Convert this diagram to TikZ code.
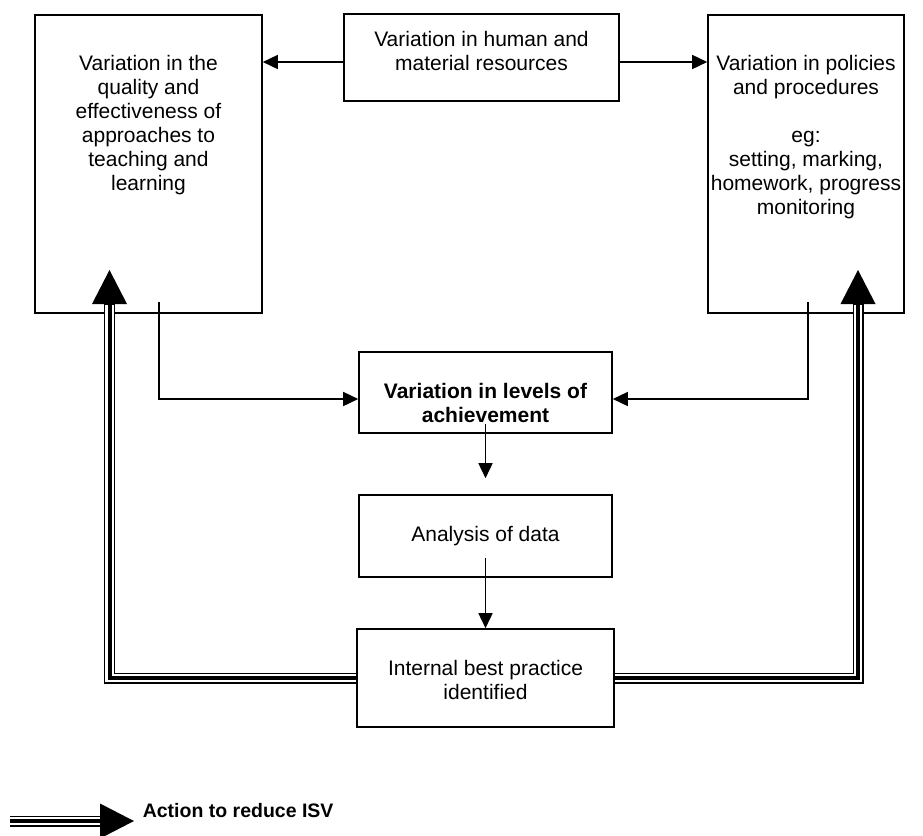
\documentclass[tikz,border=0pt]{standalone}
\usepackage{fontspec}
\setmainfont{Liberation Sans}
\usetikzlibrary{arrows.meta}

\begin{document}
\begin{tikzpicture}[x=1pt, y=-1pt, line width=1.6pt, line join=miter,
		font=\fontsize{21}{24}\selectfont,
		box/.style={draw, rectangle, inner sep=0pt},
		txt/.style={align=center, inner sep=0pt, anchor=north},
		arr/.style={-{Triangle[length=15pt,width=14pt]}},
		trio/.style={line width=11pt, -{Triangle[length=34pt,width=35pt,line width=0pt]}},
		trio gap/.style={white, line width=8.4pt, shorten >=34.5pt},
		trio core/.style={line width=4pt, shorten >=34.5pt}]
	\def\ya{62}   % height of the top arrows
	\def\yb{399}  % height of the arrows into the middle box
	\useasboundingbox (0,0) rectangle (923,835);
	% boxes
	\node[box, minimum width=227pt, minimum height=298pt] (quality) at (148.5,164) {};
	\node[box, minimum width=196pt, minimum height=298pt] (policies) at (806,164) {};
	\node[box, minimum width=275pt, minimum height=87pt] (resources) at (481.5,57.5) {};
	\node[box, minimum width=253pt, minimum height=81pt] (levels) at (485.5,392.5) {};
	\node[box, minimum width=253pt, minimum height=82pt] (analysis) at (485.5,536) {};
	\node[box, minimum width=257pt, minimum height=98pt] (practice) at (485.5,678) {};
	% texts
	\node[txt] (qualitytext) at (148.5,54) {Variation in the\\quality and\\effectiveness of\\approaches to\\teaching and\\learning};
	\node[txt] (policiestext) at (806,54) {Variation in policies\\and procedures\\[24pt]eg:\\setting, marking,\\homework, progress\\monitoring};
	\node[txt] (resourcestext) at (481.5,30) {Variation in human and\\material resources};
	\node[txt, font=\fontsize{21}{24}\selectfont\bfseries] (levelstext) at (485.5,382) {Variation in levels of\\achievement};
	\node[txt] (analysistext) at (485.5,525) {Analysis of data};
	\node[txt] (practicetext) at (485.5,659) {Internal best practice\\identified};
	% thin arrows
	\draw[arr] (resources.west |- 0,\ya) -- (quality.east |- 0,\ya);
	\draw[arr] (resources.east |- 0,\ya) -- (policies.west |- 0,\ya);
	\coordinate (qfoot) at (159,302);
	\coordinate (pfoot) at (808,302);
	\draw[arr] (qfoot) |- (levels.west |- 0,\yb);
	\draw[arr] (pfoot) |- (levels.east |- 0,\yb);
	\draw[arr] ([yshift=10pt]levels.south) -- ([yshift=16pt]analysis.north);
	\draw[arr] ([yshift=20pt]analysis.south) -- (practice.north);
	% triple arrows back to the top boxes
	\coordinate (qtip) at (109.5,270);
	\coordinate (ptip) at (858,270);
	\foreach \s in {trio, trio gap, trio core} {
		\draw[\s] (practice.west) -| (qtip);
		\draw[\s] (practice.east) -| (ptip);
	}
	% key
	\coordinate (keystart) at (10,821);
	\coordinate (keyend) at (134,821);
	\foreach \s in {trio, trio gap, trio core}
		\draw[\s] (keystart) -- (keyend);
	\node[anchor=base west, inner sep=0pt, font=\fontsize{19.5}{22}\selectfont\bfseries] (key) at (142,817) {Action to reduce ISV};
\end{tikzpicture}
\end{document}
